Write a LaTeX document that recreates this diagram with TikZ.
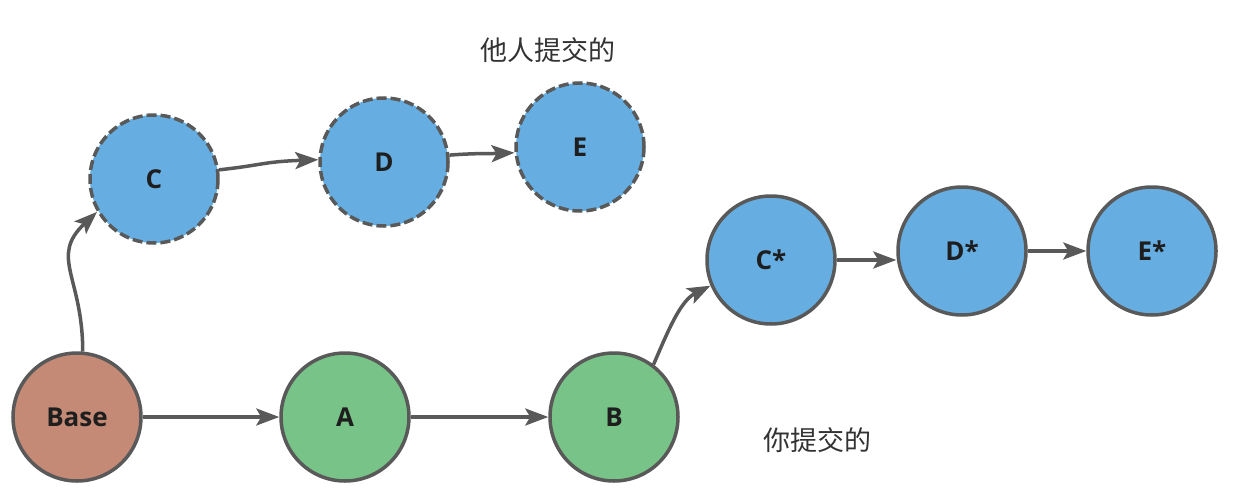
\documentclass[tikz,border=0pt]{standalone}
\usepackage{fontspec}
\setmainfont{Open Sans}
\newfontfamily\cjk{Noto Sans CJK SC}
\usetikzlibrary{arrows.meta}
\definecolor{bluefill}{HTML}{66AEE2}
\definecolor{greenfill}{HTML}{78C387}
\definecolor{brownfill}{HTML}{C48A76}
\definecolor{edge}{HTML}{595959}
\definecolor{labeltext}{HTML}{1E1E1E}
\definecolor{note}{HTML}{333333}
\begin{document}
\begin{tikzpicture}[x=1pt,y=-1pt,
  commit/.style={circle, draw=edge, line width=3.5pt, minimum size=128pt, inner sep=0pt,
    font=\fontsize{26}{30}\selectfont\bfseries, text=labeltext},
  other/.style={commit, fill=bluefill, dash pattern=on 10pt off 4pt},
  mine/.style={commit, fill=bluefill},
  local/.style={commit, fill=greenfill},
  basec/.style={commit, fill=brownfill},
  link/.style={draw=edge, line width=3.5pt, -{Stealth[length=23pt,width=17pt,inset=5pt]}},
  caption/.style={font=\cjk\fontsize{27}{32}\selectfont, text=note}
]
\useasboundingbox (0,0) rectangle (1233,487);

\node[basec] (Base) at (77,417) {Base};
\node[local] (A) at (345,417) {A};
\node[local] (B) at (614,417) {B};
\node[other] (C) at (154,179) {C};
\node[other] (D) at (384,162) {D};
\node[other] (E) at (580,147) {E};
\node[mine] (Cs) at (771,260) {C*};
\node[mine] (Ds) at (962,251) {D*};
\node[mine] (Es) at (1152,251) {E*};

\node[caption] (t1) at (548,50) {他人提交的};
\node[caption] (t2) at (817,440) {你提交的};

\draw[link] (Base) -- (A);
\draw[link] (A) -- (B);
\draw[link] (Base.85) .. controls +(0,-75) and +(-48,45) .. (C.210);
\draw[link] (C.8) .. controls +(45,-5) and +(-55,2) .. (D.178);
\draw[link] (D.6) .. controls +(25,-2) and +(-25,1) .. (E.185);
\draw[link] (B.53) .. controls +(15,-35) and +(-30,15) .. (Cs.203);
\draw[link] (Cs.east) -- (Cs.east -| Ds.west);
\draw[link] (Ds) -- (Es);
\end{tikzpicture}
\end{document}
